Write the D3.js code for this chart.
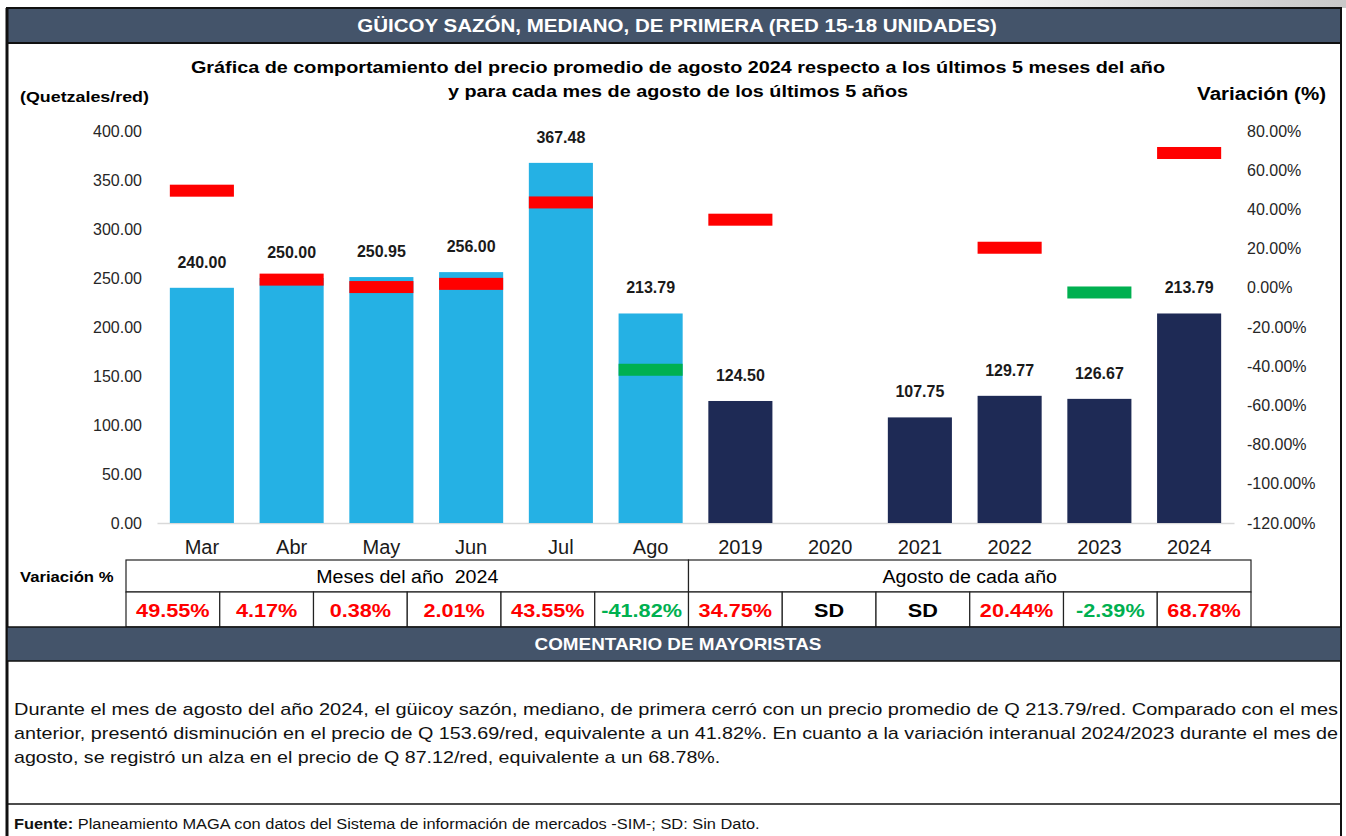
<!DOCTYPE html>
<html>
<head>
<meta charset="utf-8">
<script src="https://cdn.jsdelivr.net/npm/d3@7"></script>
<style>
  body { margin: 0; background: #fff; }
  svg { display: block; font-family: Arial, "Liberation Sans", sans-serif; }
</style>
</head>
<body>
<svg id="chart" width="1346" height="836"></svg>
<script>
// --- data ---
var categories = ['Mar', 'Abr', 'May', 'Jun', 'Jul', 'Ago', '2019', '2020', '2021', '2022', '2023', '2024'];
var prices = [240.00, 250.00, 250.95, 256.00, 367.48, 213.79, 124.50, null, 107.75, 129.77, 126.67, 213.79];
var variation = [49.55, 4.17, 0.38, 2.01, 43.55, -41.82, 34.75, null, null, 20.44, -2.39, 68.78];
var groups = ['mes', 'mes', 'mes', 'mes', 'mes', 'mes', 'anio', 'anio', 'anio', 'anio', 'anio', 'anio'];
var priceTicks = [0, 50, 100, 150, 200, 250, 300, 350, 400];
var variationTicks = [-120, -100, -80, -60, -40, -20, 0, 20, 40, 60, 80];
var tableHeads = ['Meses del año  2024', 'Agosto de cada año'];

var headerText = 'GÜICOY SAZÓN, MEDIANO, DE PRIMERA (RED 15-18 UNIDADES)';
var titleLines = [
  'Gráfica de comportamiento del precio promedio de agosto 2024 respecto a los últimos 5 meses del año',
  'y para cada mes de agosto de los últimos 5 años'
];
var commentLines = [
  'Durante el mes de agosto del año 2024, el güicoy sazón, mediano, de primera cerró con un precio promedio de Q 213.79/red. Comparado con el mes',
  'anterior, presentó disminución en el precio de Q 153.69/red, equivalente a un 41.82%. En cuanto a la variación interanual 2024/2023 durante el mes de',
  'agosto, se registró un alza en el precio de Q 87.12/red, equivalente a un 68.78%.'
];

var colors = { mes: '#25b1e4', anio: '#1e2a55', up: '#ff0000', down: '#00b050', slate: '#44546a' };

// plain hyphen for negatives, like the sheet
var fmt = d3.formatLocale({ decimal: '.', thousands: ',', grouping: [3], currency: ['', ''], minus: '-' }).format('.2f');
var pct = function(v) { return fmt(v) + '%'; };

// the sheet's text is a bit wider than Liberation Sans: stretch glyphs
function widen(sel, k) {
  sel.each(function() {
    var w = this.getComputedTextLength();
    d3.select(this).attr('textLength', w * k).attr('lengthAdjust', 'spacingAndGlyphs');
  });
}

var svg = d3.select('#chart');

// top-right shadow of the original sheet
var grad = svg.append('defs').append('linearGradient').attr('id', 'shade');
grad.append('stop').attr('offset', '0%').attr('stop-color', '#fff');
grad.append('stop').attr('offset', '100%').attr('stop-color', '#c8c8c8');
svg.append('rect').attr('x', 900).attr('y', 0).attr('width', 446).attr('height', 8).attr('fill', 'url(#shade)');

// --- frame and header bar ---
svg.append('rect')
  .attr('x', 7).attr('y', 8).attr('width', 1334).attr('height', 35)
  .attr('fill', colors.slate).attr('stroke', '#111').attr('stroke-width', 2);
svg.append('text')
  .attr('x', 677).attr('y', 32)
  .attr('text-anchor', 'middle')
  .attr('fill', '#fff').attr('font-weight', 'bold').attr('font-size', 18)
  .text(headerText)
  .call(widen, 1.14);

svg.append('line').attr('x1', 7).attr('x2', 7).attr('y1', 8).attr('y2', 836)
  .attr('stroke', '#111').attr('stroke-width', 3);
svg.append('line').attr('x1', 1341).attr('x2', 1341).attr('y1', 8).attr('y2', 836)
  .attr('stroke', '#111').attr('stroke-width', 2);

// chart title
svg.selectAll('text.title')
  .data(titleLines)
  .enter().append('text')
  .attr('class', 'title')
  .attr('x', 678)
  .attr('y', function(d, i) { return 73 + i * 24; })
  .attr('text-anchor', 'middle')
  .attr('font-weight', 'bold').attr('font-size', 17)
  .text(function(d) { return d; })
  .call(widen, 1.165);

svg.append('text').attr('x', 20).attr('y', 102)
  .attr('font-weight', 'bold').attr('font-size', 15)
  .text('(Quetzales/red)')
  .call(widen, 1.19);
svg.append('text').attr('x', 1326).attr('y', 100)
  .attr('text-anchor', 'end')
  .attr('font-weight', 'bold').attr('font-size', 18)
  .text('Variación (%)')
  .call(widen, 1.14);

// --- scales ---
var x = d3.scaleBand()
  .domain(categories)
  .range([157, 1234])
  .paddingInner(0.286)
  .paddingOuter(0.143);

var yPrice = d3.scaleLinear().domain([0, 400]).range([523, 131]);
var yVar = d3.scaleLinear().domain([-120, 80]).range([523, 131]);

// axes, without domain lines
var leftAxis = svg.append('g')
  .attr('transform', 'translate(150,0)')
  .call(d3.axisLeft(yPrice).tickValues(priceTicks).tickSize(0).tickPadding(8).tickFormat(fmt));
var rightAxis = svg.append('g')
  .attr('transform', 'translate(1239,0)')
  .call(d3.axisRight(yVar).tickValues(variationTicks).tickSize(0).tickPadding(8).tickFormat(pct));
[leftAxis, rightAxis].forEach(function(a) {
  a.select('.domain').remove();
  a.selectAll('text')
    .attr('font-size', 16).attr('font-family', 'Arial, "Liberation Sans", sans-serif')
    .attr('fill', '#262626');
});

var bottomAxis = svg.append('g')
  .attr('transform', 'translate(0,523)')
  .call(d3.axisBottom(x).tickSize(0).tickPadding(17));
bottomAxis.select('.domain').attr('stroke', '#d9d9d9').attr('stroke-width', 1.5);
bottomAxis.selectAll('text')
  .attr('font-size', 20).attr('font-family', 'Arial, "Liberation Sans", sans-serif')
  .attr('fill', '#1a1a1a');

// --- bars ---
var rows = categories.map(function(c, i) {
  return { key: c, price: prices[i], variation: variation[i], group: groups[i] };
});

svg.append('g').selectAll('rect.bar')
  .data(rows.filter(function(d) { return d.price != null; }))
  .enter().append('rect')
  .attr('class', 'bar')
  .attr('x', function(d) { return x(d.key); })
  .attr('y', function(d) { return yPrice(d.price); })
  .attr('width', x.bandwidth())
  .attr('height', function(d) { return yPrice(0) - yPrice(d.price); })
  .attr('fill', function(d) { return colors[d.group]; });

// variation markers (dash on the right axis)
var markH = 12;
svg.append('g').selectAll('rect.mark')
  .data(rows.filter(function(d) { return d.variation != null; }))
  .enter().append('rect')
  .attr('class', 'mark')
  .attr('x', function(d) { return x(d.key); })
  .attr('y', function(d) { return yVar(d.variation) - markH / 2; })
  .attr('width', x.bandwidth())
  .attr('height', markH)
  .attr('fill', function(d) { return d.variation > 0 ? colors.up : colors.down; });

// value labels
svg.append('g').selectAll('text.value')
  .data(rows.filter(function(d) { return d.price != null; }))
  .enter().append('text')
  .attr('class', 'value')
  .attr('x', function(d) { return x(d.key) + x.bandwidth() / 2; })
  .attr('y', function(d) { return yPrice(d.price) - 20; })
  .attr('text-anchor', 'middle')
  .attr('font-weight', 'bold').attr('font-size', 16)
  .attr('fill', '#1a1a1a')
  .text(function(d) { return fmt(d.price); });

// --- variation table ---
var tx = d3.scaleBand().domain(categories).range([126, 1251]);
var table = svg.append('g');

svg.append('text').attr('x', 20).attr('y', 582)
  .attr('font-weight', 'bold').attr('font-size', 15)
  .text('Variación %')
  .call(widen, 1.11);

tableHeads.forEach(function(h, i) {
  var x0 = tx(categories[i * 6]);
  var x1 = tx(categories[i * 6 + 5]) + tx.bandwidth();
  table.append('rect')
    .attr('x', x0).attr('y', 560).attr('width', x1 - x0).attr('height', 32)
    .attr('fill', '#fff').attr('stroke', '#222').attr('stroke-width', 1.2);
  table.append('text')
    .attr('x', (x0 + x1) / 2).attr('y', 583)
    .attr('text-anchor', 'middle').attr('font-size', 18)
    .style('white-space', 'pre')
    .text(h)
    .call(widen, 1.09);
});

var cells = table.selectAll('g.cell')
  .data(rows)
  .enter().append('g')
  .attr('class', 'cell');
cells.append('rect')
  .attr('x', function(d) { return tx(d.key); })
  .attr('y', 592)
  .attr('width', tx.bandwidth())
  .attr('height', 35)
  .attr('fill', '#fff').attr('stroke', '#222').attr('stroke-width', 1.2);
cells.append('text')
  .attr('x', function(d) { return tx(d.key) + tx.bandwidth() / 2; })
  .attr('y', 617)
  .attr('text-anchor', 'middle')
  .attr('font-weight', 'bold').attr('font-size', 19)
  .attr('fill', function(d) {
    if (d.variation == null) return '#000';
    return d.variation > 0 ? colors.up : colors.down;
  })
  .text(function(d) { return d.variation == null ? 'SD' : pct(d.variation); })
  .call(widen, 1.14);

// --- comments ---
svg.append('rect')
  .attr('x', 7).attr('y', 627).attr('width', 1334).attr('height', 34)
  .attr('fill', colors.slate).attr('stroke', '#111').attr('stroke-width', 1.5);
svg.append('text')
  .attr('x', 678).attr('y', 650)
  .attr('text-anchor', 'middle')
  .attr('fill', '#fff').attr('font-weight', 'bold').attr('font-size', 17)
  .text('COMENTARIO DE MAYORISTAS')
  .call(widen, 1.11);

var comments = svg.selectAll('text.comment')
  .data(commentLines)
  .enter().append('text')
  .attr('class', 'comment')
  .attr('x', 14)
  .attr('y', function(d, i) { return 715 + i * 24; })
  .attr('font-size', 17)
  .attr('fill', '#111')
  .text(function(d) { return d; });
// justified lines fill the box, the last one only gets the glyph stretch
comments.filter(function(d, i) { return i < commentLines.length - 1; })
  .attr('textLength', 1324).attr('lengthAdjust', 'spacingAndGlyphs');
comments.filter(function(d, i) { return i === commentLines.length - 1; })
  .call(widen, 1.155);

svg.append('line').attr('x1', 7).attr('x2', 1341).attr('y1', 804).attr('y2', 804)
  .attr('stroke', '#111').attr('stroke-width', 1.5);

var foot = svg.append('text').attr('x', 14).attr('y', 829).attr('font-size', 14).attr('fill', '#111');
foot.append('tspan').attr('font-weight', 'bold').text('Fuente:');
foot.append('tspan').text(' Planeamiento MAGA con datos del Sistema de información de mercados -SIM-; SD: Sin Dato.');
foot.selectAll('tspan').call(widen, 1.17);
</script>
</body>
</html>
